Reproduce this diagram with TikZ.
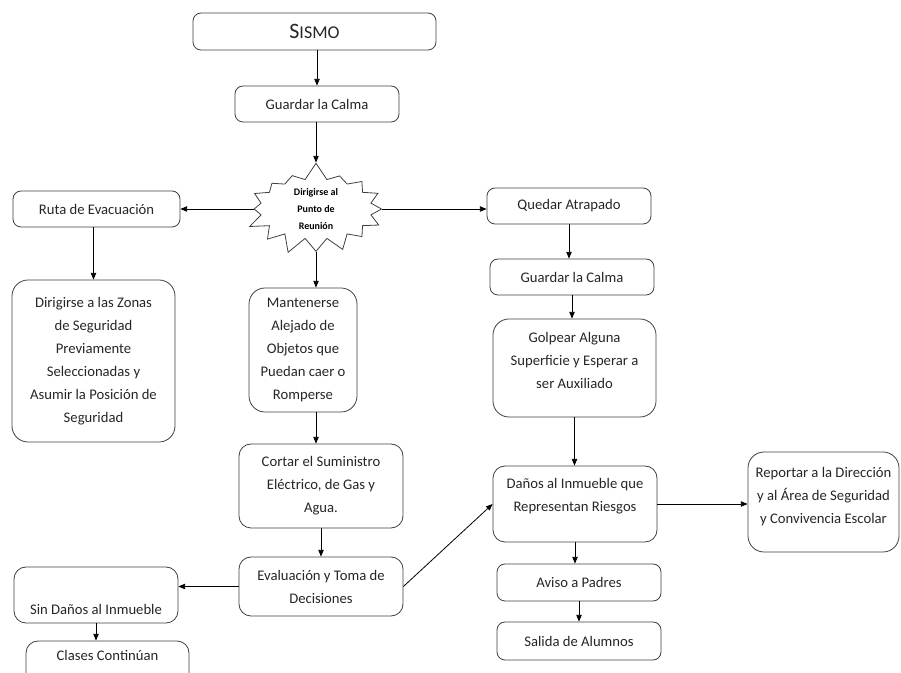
\documentclass[tikz,border=0pt]{standalone}
\usepackage{fontspec}
\setmainfont{Carlito}
\usetikzlibrary{shapes.symbols,arrows.meta}
\tikzset{box/.style={draw=black!75, line width=0.6pt, rounded corners=6pt, align=center, inner sep=1pt,
	text=black!85, font=\fontsize{11}{17.25}\selectfont},
	bigbox/.style={box, rounded corners=12pt},
	burst/.style={starburst, draw=black!75, line width=0.6pt, starburst points=16, starburst point height=13pt,
	random starburst=7, align=center, inner sep=0pt, font=\bfseries\fontsize{7.5}{12.75}\selectfont},
	arr/.style={-{Triangle[length=5pt,width=4pt]}, line width=0.6pt}}

\begin{document}
\begin{tikzpicture}[x=0.75pt,y=-0.75pt]
	\path[use as bounding box, clip] (0,0) rectangle (901,673);
	\node[box, minimum width=182.25pt, minimum height=27.75pt] (sismo) at (314.5,31.5)
		{{\fontsize{16.5}{18}\selectfont S}{\fontsize{13.5}{18}\selectfont ISMO}};
	\node[box, minimum width=123pt, minimum height=27pt] (calma1) at (317,104) {Guardar la Calma};
	\node[burst, minimum width=110pt, minimum height=71pt] (punto) at (316,209) {Dirigirse al\\Punto de\\Reunión};
	\node[box, minimum width=125.25pt, minimum height=27pt] (ruta) at (96.5,209) {Ruta de Evacuación};
	\node[box, minimum width=123pt, minimum height=27pt] (quedar) at (569,206) {Quedar Atrapado};
	\node[box, minimum width=123pt, minimum height=27pt] (calma2) at (572,277) {Guardar la Calma};
	\node[bigbox, minimum width=122.25pt, minimum height=121.5pt] (zonas) at (93.5,361)
		{Dirigirse a las Zonas\\de Seguridad\\Previamente\\Seleccionadas y\\Asumir la Posición de\\Seguridad};
	\node[bigbox, minimum width=81pt, minimum height=93pt] (alejado) at (303,350)
		{Mantenerse\\Alejado de\\Objetos que\\Puedan caer o\\Romperse};
	\node[bigbox, minimum width=122.25pt, minimum height=73.5pt, text depth=11.5pt] (golpear) at (574.5,368)
		{Golpear Alguna\\Superficie y Esperar a\\ser Auxiliado};
	\node[box, rounded corners=9pt, minimum width=123pt, minimum height=63pt] (cortar) at (321,486)
		{Cortar el Suministro\\Eléctrico, de Gas y\\Agua.};
	\node[box, rounded corners=9pt, minimum width=123pt, minimum height=57pt, text depth=13pt] (danos) at (575,504)
		{Daños al Inmueble que\\Representan Riesgos};
	\node[bigbox, minimum width=113.25pt, minimum height=75pt, text depth=9.5pt] (reportar) at (823.5,502)
		{Reportar a la Dirección\\y al Área de Seguridad\\y Convivencia Escolar};
	\node[box, minimum width=123pt, minimum height=27.75pt] (aviso) at (579,582.5) {Aviso a Padres};
	\node[box, minimum width=123pt, minimum height=28.5pt] (salida) at (579,641) {Salida de Alumnos};
	\node[box, rounded corners=9pt, minimum width=123pt, minimum height=44.25pt] (evaluacion) at (321,586.5)
		{Evaluación y Toma de\\Decisiones};
	\node[box, rounded corners=9pt, minimum width=123pt, minimum height=42pt] (sindanos) at (96,595)
		{\strut\\Sin Daños al Inmueble};
	\node[box, rounded corners=9pt, minimum width=122.25pt, minimum height=44.25pt] (clases) at (107.5,670.5)
		{Clases Continúan\\\strut};

	\draw[arr] (sismo.south -| calma1.north) -- (calma1.north);
	\draw[arr] (calma1.south -| punto.north) -- (punto.north);
	\draw[arr] (punto.west) -- (punto.west -| ruta.east);
	\draw[arr] (punto.east) -- (punto.east -| quedar.west);
	\draw[arr] (punto.south) -- (punto.south |- alejado.north);
	\draw[arr] (ruta.south -| zonas.north) -- (zonas.north);
	\draw[arr] (quedar.south) -- (quedar.south |- calma2.north);
	\draw[arr] (calma2.south) -- (calma2.south |- golpear.north);
	\draw[arr] (golpear.south) -- (golpear.south |- danos.north);
	\draw[arr] (alejado.south -| punto.south) -- (punto.south |- cortar.north);
	\draw[arr] (cortar.south) -- (evaluacion.north);
	\draw[arr] (evaluacion.west) -- (evaluacion.west -| sindanos.east);
	\draw[arr] (evaluacion.east) -- (danos.west);
	\draw[arr] (danos.east) -- (danos.east -| reportar.west);
	\draw[arr] (danos.south) -- (danos.south |- aviso.north);
	\draw[arr] (aviso.south) -- (aviso.south |- salida.north);
	\draw[arr] (sindanos.south) -- (sindanos.south |- clases.north);
\end{tikzpicture}
\end{document}
